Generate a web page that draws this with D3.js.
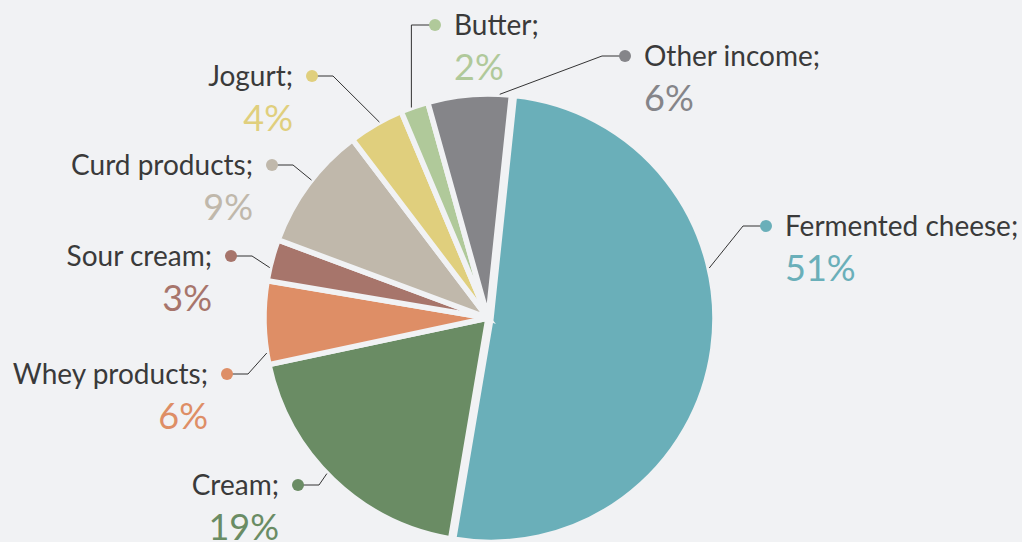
<!DOCTYPE html>
<html>
<head>
<meta charset="utf-8">
<script src="https://cdn.jsdelivr.net/npm/d3@7"></script>
<style>
  html, body { margin: 0; padding: 0; background: #f1f2f4; }
  svg { display: block; }
  text { font-family: Lato, "Open Sans", sans-serif; }
</style>
</head>
<body>
<svg id="chart" width="1022" height="542"></svg>
<script>
// data
const categories = ["Fermented cheese", "Cream", "Whey products", "Sour cream",
  "Curd products", "Jogurt", "Butter", "Other income"];
const shares = [51, 19, 6, 3, 9, 4, 2, 6];
const colors = ["#6aafb9", "#6a8c64", "#de8e66", "#a7756b",
  "#c0b8ab", "#e0cf7d", "#b0c99a", "#858589"];

// label layout: dot position, side, where the leader touches the arc (deg)
const labelDots = [[766, 226], [298, 485], [227, 374], [231, 256],
  [272, 165], [312, 76], [435, 25], [625, 56]];
const labelSide = ["right", "left", "left", "left", "left", "left", "right", "right"];
const anchorDeg = [77, 226, 261, 283, 308, 331, 340, 3];

const width = 1022, height = 542;
const cx = 488, cy = 318, radius = 224;
const bg = "#f1f2f4";

const svg = d3.select("#chart");
const g = svg.append("g").attr("transform", `translate(${cx},${cy})`);

const pie = d3.pie()
  .sort(null)
  .startAngle(6 * Math.PI / 180)
  .endAngle(366 * Math.PI / 180)
  .value((d) => d);

const arc = d3.arc().innerRadius(0).outerRadius(radius);
const arcs = pie(shares);

function offsetOf(d, i) {
  // fermented cheese is pulled out a little
  if (i !== 0) return [0, 0];
  const mid = (d.startAngle + d.endAngle) / 2;
  return [3 * Math.sin(mid), -3 * Math.cos(mid)];
}

g.selectAll("path.slice")
  .data(arcs)
  .enter()
  .append("path")
  .attr("class", "slice")
  .attr("d", arc)
  .attr("transform", (d, i) => `translate(${offsetOf(d, i)})`)
  .attr("fill", (d, i) => colors[i])
  .attr("stroke", bg)
  .attr("stroke-width", 5.5)
  .attr("stroke-linejoin", "miter");

// leaders + labels
const labels = svg.append("g");
arcs.forEach((d, i) => {
  const a = anchorDeg[i] * Math.PI / 180;
  const off = offsetOf(d, i);
  const ax = cx + off[0] + radius * Math.sin(a);
  const ay = cy + off[1] - radius * Math.cos(a);
  const [dx, dy] = labelDots[i];
  const right = labelSide[i] === "right";
  let ex = right ? dx - 23 : dx + 21;
  if (i === 6) ex = ax; // butter: straight vertical drop
  labels.append("path")
    .attr("d", d3.line()([[ax, ay], [ex, dy], [dx, dy]]))
    .attr("fill", "none")
    .attr("stroke", "#333")
    .attr("stroke-width", 1);
  labels.append("circle")
    .attr("cx", dx).attr("cy", dy).attr("r", 6)
    .attr("fill", colors[i]);
  const tx = right ? dx + 19 : dx - 19;
  const anchor = right ? "start" : "end";
  labels.append("text")
    .attr("x", tx).attr("y", dy + 10)
    .attr("text-anchor", anchor)
    .attr("fill", "#3a3a3a")
    .style("font-size", "28px")
    .text(categories[i] + ";");
  labels.append("text")
    .attr("x", tx).attr("y", dy + 55)
    .attr("text-anchor", anchor)
    .attr("fill", colors[i])
    .style("font-size", "36px")
    .text(shares[i] + "%");
});
</script>
</body>
</html>
